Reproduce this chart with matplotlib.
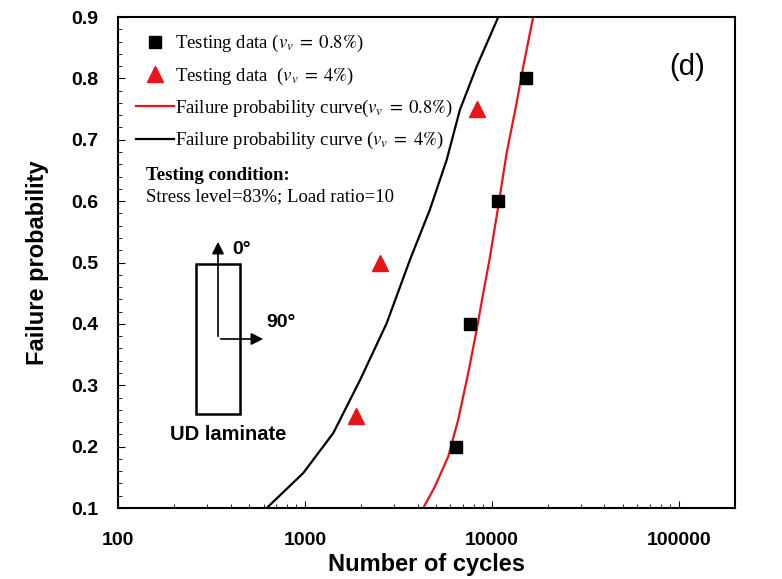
import matplotlib
matplotlib.use("Agg")
import matplotlib.pyplot as plt
from matplotlib.lines import Line2D
from matplotlib.patches import Rectangle
from matplotlib.ticker import FixedLocator, MultipleLocator, NullFormatter, FormatStrFormatter

plt.rcParams["mathtext.fontset"] = "stix"
plt.rcParams["font.family"] = "Liberation Sans"

# testing data, v_v = 0.8 %
sq_cycles = [6400, 7620, 10800, 15140]
sq_prob = [0.2, 0.4, 0.6, 0.8]

# testing data, v_v = 4 %
tri_cycles = [1875, 2520, 8280]
tri_prob = [0.25, 0.5, 0.75]

# failure probability curves
red_cycles = [4292, 4958, 5839, 6604, 7470, 8284, 8985, 9700, 10808, 11985,
              13558, 14706, 16630]
red_prob = [0.1, 0.135, 0.184, 0.244, 0.32, 0.39, 0.45, 0.504, 0.591, 0.678,
            0.76, 0.819, 0.9]

blk_cycles = [624, 979, 1416, 1967, 2735, 3640, 4655, 5725, 6745, 8280, 10820]
blk_prob = [0.1, 0.157, 0.222, 0.308, 0.401, 0.504, 0.586, 0.667, 0.749, 0.819, 0.9]

xticks = [100, 1000, 10000, 100000]
xticklabels = ["100", "1000", "10000", "100000"]

fig = plt.figure(figsize=(7.82, 5.79), dpi=100)
ax = fig.add_axes([0.151, 0.1226, 0.789, 0.848])

ax.plot(red_cycles, red_prob, color="#e8141c", lw=1.6, zorder=2)
ax.plot(blk_cycles, blk_prob, color="black", lw=1.6, zorder=2)
ax.plot(sq_cycles, sq_prob, "s", color="black", ms=9, zorder=3)
ax.plot(tri_cycles, tri_prob, "^", color="#e8141c", ms=11, zorder=3)

ax.set_xscale("log")
ax.set_xlim(100, 200000)
ax.set_ylim(0.1, 0.9)
ax.xaxis.set_major_locator(FixedLocator(xticks))
ax.set_xticklabels(xticklabels)
ax.xaxis.set_minor_formatter(NullFormatter())
ax.yaxis.set_major_locator(MultipleLocator(0.1))
ax.yaxis.set_minor_locator(MultipleLocator(0.02))
ax.yaxis.set_major_formatter(FormatStrFormatter("%.1f"))

ax.tick_params(which="both", direction="in", top=False, right=False)
ax.tick_params(which="major", length=5, width=0.8, labelsize=14)
ax.tick_params(which="minor", length=3, width=0.6)
ax.tick_params(axis="x", pad=17)
ax.tick_params(axis="y", pad=14)
for lab in ax.get_xticklabels() + ax.get_yticklabels():
    lab.set_fontweight("bold")
for s in ax.spines.values():
    s.set_linewidth(1.5)

ax.set_xlabel("Number of cycles", fontweight="bold", fontsize=17, labelpad=3)
ax.set_ylabel("Failure probability", fontweight="bold", fontsize=17, labelpad=16)

handles = [
    Line2D([], [], ls="none", marker="s", color="black", ms=9),
    Line2D([], [], ls="none", marker="^", color="#e8141c", ms=11),
    Line2D([], [], color="#e8141c", lw=1.6),
    Line2D([], [], color="black", lw=1.6),
]
labels = [
    r"Testing data ($v_v\;=\;0.8\%$)",
    r"Testing data  ($v_v\;=\;4\%$)",
    r"Failure probability curve($v_v\;=\;0.8\%$)",
    r"Failure probability curve ($v_v\;=\;4\%$)",
]
ax.legend(handles, labels, loc="upper left", bbox_to_anchor=(0.005, 0.998),
          frameon=False, prop={"family": "Liberation Serif", "size": 13.5},
          handlelength=2.0, handletextpad=0.05, labelspacing=0.6,
          borderaxespad=0.5, borderpad=0.3)

ax.text(0.046, 0.678, "Testing condition:", transform=ax.transAxes,
        fontfamily="Liberation Serif", fontweight="bold", fontsize=13.5, va="center")
ax.text(0.046, 0.633, "Stress level=83%; Load ratio=10", transform=ax.transAxes,
        fontfamily="Liberation Serif", fontsize=13.5, va="center")

ax.text(0.922, 0.898, "(d)", transform=ax.transAxes, fontsize=21,
        ha="center", va="center")


# UD laminate sketch (figure pixel coordinates)
def px(x, y):
    return x / 782, 1 - y / 579


r0 = px(196, 414)
r1 = px(240, 264)
fig.patches.append(Rectangle(r0, r1[0] - r0[0], r1[1] - r0[1], transform=fig.transFigure,
                             fill=False, lw=1.8, ec="black"))
o = px(218, 339)
ax.annotate("", xy=px(218, 239), xytext=o, xycoords="figure fraction",
            arrowprops=dict(arrowstyle="-|>", lw=1.2, color="black", mutation_scale=18))
ax.annotate("", xy=px(266, 339), xytext=o, xycoords="figure fraction",
            arrowprops=dict(arrowstyle="-|>", lw=1.2, color="black", mutation_scale=18))
fig.text(*px(232, 249), "0°", fontweight="bold", fontsize=14, va="center")
fig.text(*px(266, 322), "90°", fontweight="bold", fontsize=14, va="center")
fig.text(*px(228, 434), "UD laminate", fontweight="bold", fontsize=14.5,
         ha="center", va="center")

fig.savefig("out.png", dpi=100)
